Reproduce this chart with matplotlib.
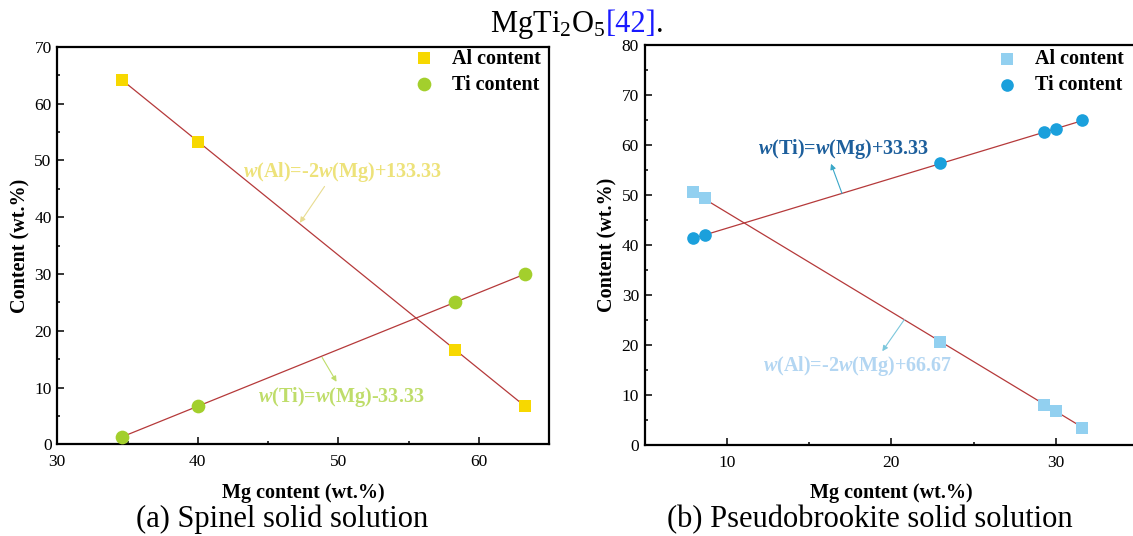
import numpy as np
import matplotlib
matplotlib.use('Agg')
import matplotlib.pyplot as plt
from matplotlib.ticker import MultipleLocator

plt.rcParams['font.family'] = ['Liberation Serif', 'DejaVu Serif']
plt.rcParams['mathtext.fontset'] = 'custom'
plt.rcParams['mathtext.rm'] = 'Liberation Serif'
plt.rcParams['mathtext.it'] = 'Liberation Serif:italic'
plt.rcParams['mathtext.bf'] = 'Liberation Serif:bold'
plt.rcParams['mathtext.bfit'] = 'Liberation Serif:italic:bold'

# (a) spinel solid solution
spinel_mg = [34.6, 40.0, 58.3, 63.3]
spinel_al = [64.2, 53.3, 16.6, 6.7]
spinel_ti = [1.3, 6.7, 25.0, 30.0]

# (b) pseudobrookite solid solution
pseudo_mg = [7.95, 8.65, 22.95, 29.3, 30.0, 31.6]
pseudo_al = [50.5, 49.3, 20.7, 8.1, 6.8, 3.5]
pseudo_ti = [41.3, 42.0, 56.3, 62.6, 63.2, 64.9]

W, H = 1133, 536
fig = plt.figure(figsize=(W / 100, H / 100), dpi=100)

def px_axes(left, right, top, bottom):
    return fig.add_axes([left / W, (H - bottom) / H, (right - left) / W, (bottom - top) / H])

ax1 = px_axes(57.2, 549.3, 46.7, 444.3)
ax2 = px_axes(644.5, 1138.3, 45.0, 445.0)

fit_color = '#b5393a'
ms = 75


def fit_line(ax, x, y):
    k, b = np.polyfit(x, y, 1)
    xs = np.array([min(x), max(x)])
    ax.plot(xs, k * xs + b, color=fit_color, lw=0.9, zorder=2)


def style_axes(ax, xlim, ylim, xmaj, ymaj):
    ax.set_xlim(*xlim)
    ax.set_ylim(*ylim)
    ax.xaxis.set_major_locator(MultipleLocator(xmaj))
    ax.xaxis.set_minor_locator(MultipleLocator(xmaj / 2))
    ax.yaxis.set_major_locator(MultipleLocator(ymaj))
    ax.yaxis.set_minor_locator(MultipleLocator(ymaj / 2))
    ax.tick_params(which='both', direction='in', width=1.1, labelsize=12.5)
    ax.tick_params(axis='x', pad=7)
    ax.tick_params(axis='y', pad=4)
    ax.tick_params(which='major', length=5)
    ax.tick_params(which='minor', length=2.5)
    for s in ax.spines.values():
        s.set_linewidth(1.6)
    ax.set_xlabel('Mg content (wt.%)', fontsize=14.5, fontweight='bold', labelpad=9)
    ax.set_ylabel('Content (wt.%)', fontsize=14.5, fontweight='bold', labelpad=3)


# ---- panel (a)
fit_line(ax1, spinel_mg, spinel_al)
fit_line(ax1, spinel_mg, spinel_ti)
ax1.scatter(spinel_mg, spinel_al, marker='s', s=ms, color='#f7d800', label='Al content', zorder=3, lw=0)
ax1.scatter(spinel_mg, spinel_ti, marker='o', s=ms * 1.3, color='#a3cf2c', label='Ti content', zorder=3, lw=0)
style_axes(ax1, (30, 65), (0, 70), 10, 10)
ax1.legend(loc='upper left', bbox_to_anchor=(0.725, 0.995), frameon=False, borderaxespad=0,
           borderpad=0, handlelength=1.0, handletextpad=0.9, labelspacing=0.3,
           prop={'size': 14.5, 'weight': 'bold'})

ax1.annotate(r'$\mathbfit{w}$(Al)=-2$\mathbfit{w}$(Mg)+133.33', xy=(47.26, 39.0), xytext=(43.2, 48.0),
             color='#ede27a', fontsize=14.5, fontweight='bold', va='center', ha='left',
             arrowprops=dict(arrowstyle='-|>', color='#e8dc90', lw=0.8, mutation_scale=8,
                             shrinkA=0, shrinkB=0, relpos=(0.42, 0.0)))
ax1.annotate(r'$\mathbfit{w}$(Ti)=$\mathbfit{w}$(Mg)-33.33', xy=(48.84, 15.3), xytext=(44.3, 8.4),
             color='#bfdd6a', fontsize=14.5, fontweight='bold', va='center', ha='left',
             arrowprops=dict(arrowstyle='<|-', color='#bfdd6a', lw=0.8, mutation_scale=8,
                             shrinkA=0, shrinkB=0, relpos=(0.48, 1.0)))

# ---- panel (b)
fit_line(ax2, pseudo_mg, pseudo_al)
fit_line(ax2, pseudo_mg, pseudo_ti)
ax2.scatter(pseudo_mg, pseudo_al, marker='s', s=ms * 0.9, color='#92d0f0', label='Al content', zorder=3, lw=0)
ax2.scatter(pseudo_mg, pseudo_ti, marker='o', s=ms * 1.1, color='#1ba0dc', label='Ti content', zorder=3, lw=0)
style_axes(ax2, (5, 35), (0, 80), 10, 10)
ax2.legend(loc='upper left', bbox_to_anchor=(0.713, 0.99), frameon=False, borderaxespad=0,
           borderpad=0, handlelength=1.0, handletextpad=0.9, labelspacing=0.3,
           prop={'size': 14.5, 'weight': 'bold'})

ax2.annotate(r'$\mathbfit{w}$(Ti)=$\mathbfit{w}$(Mg)+33.33', xy=(17.0, 50.3), xytext=(11.9, 59.2),
             color='#1d5f9c', fontsize=14.5, fontweight='bold', va='center', ha='left',
             arrowprops=dict(arrowstyle='<|-', color='#3aa7c8', lw=0.8, mutation_scale=8,
                             shrinkA=0, shrinkB=0, relpos=(0.42, 0.0)))
ax2.annotate(r'$\mathbfit{w}$(Al)=-2$\mathbfit{w}$(Mg)+66.67', xy=(20.79, 25.1), xytext=(12.2, 15.8),
             color='#b3d6f2', fontsize=14.5, fontweight='bold', va='center', ha='left',
             arrowprops=dict(arrowstyle='<|-', color='#7cc7dc', lw=0.8, mutation_scale=8,
                             shrinkA=0, shrinkB=0, relpos=(0.62, 1.0)))

# ---- captions
fig.text(282.6 / W, 1 - 519 / H, '(a) Spinel solid solution', fontsize=22, ha='center', va='center')
fig.text(870 / W, 1 - 520 / H, '(b) Pseudobrookite solid solution', fontsize=22, ha='center', va='center')

t1 = fig.text(490 / W, 1 - 32 / H, r'MgTi$_2$O$_5$', fontsize=22, ha='left', va='baseline')
fig.canvas.draw()
bb = t1.get_window_extent()
t2 = fig.text(bb.x1 / W, 1 - 32 / H, '[42]', fontsize=22, color='#1a1aff', ha='left', va='baseline')
fig.canvas.draw()
bb2 = t2.get_window_extent()
fig.text(bb2.x1 / W, 1 - 32 / H, '.', fontsize=22, ha='left', va='baseline')

fig.savefig('out.png', dpi=100)
